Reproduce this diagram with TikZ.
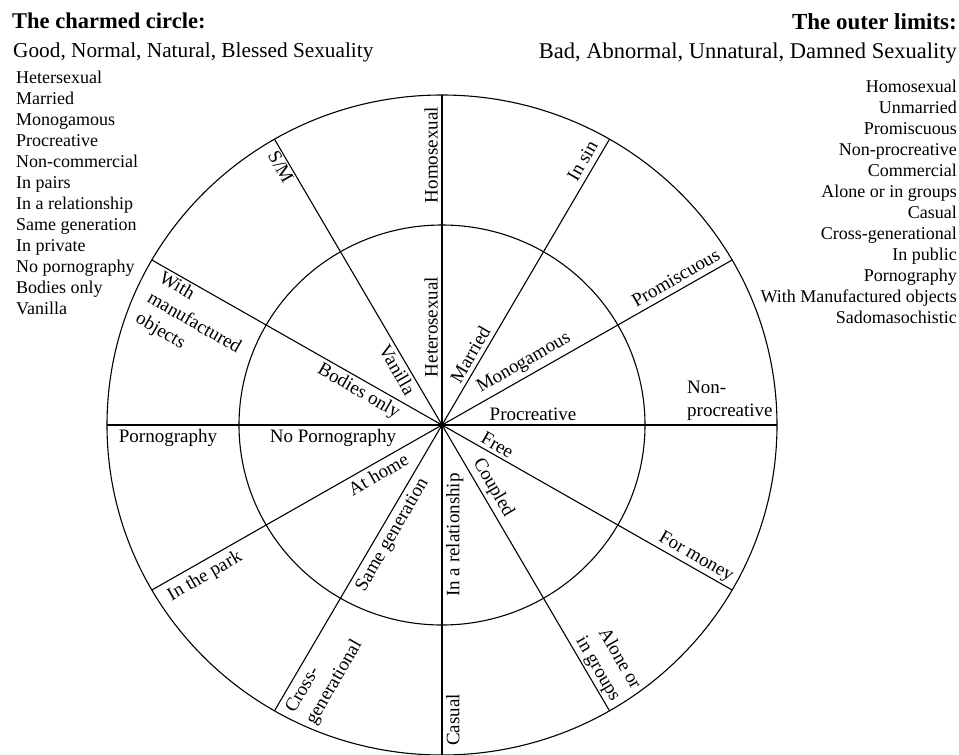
\documentclass[tikz,border=0pt]{standalone}
\usepackage{fontspec}
\setmainfont{Liberation Serif}

\begin{document}
\begin{tikzpicture}[x=1pt, y=-1pt,
    every node/.style={inner sep=0pt, text=black},
    ring/.style={line width=1.1pt},
    spoke/.style={line width=1.1pt},
    lbl/.style={font=\fontsize{19}{23.5}\selectfont, inner sep=4pt},
    listitem/.style={font=\fontsize{18}{21}\selectfont},
    ]
  \useasboundingbox (0,0) rectangle (959,755);

  % headings
  \node[anchor=base west, font=\bfseries\fontsize{22.5}{26}\selectfont] (charmed) at (12,28) {The charmed circle:};
  \node[anchor=base west, font=\fontsize{21.3}{25}\selectfont] (good) at (13,57) {Good, Normal, Natural, Blessed Sexuality};
  \node[anchor=base east, font=\bfseries\fontsize{23}{26}\selectfont] (outer) at (957,29) {The outer limits:};
  \node[anchor=base east, font=\fontsize{22.5}{26}\selectfont] (bad) at (957,58) {Bad, Abnormal, Unnatural, Damned Sexuality};

  % the two lists
  \foreach \t [count=\i] in {Hetersexual, Married, Monogamous, Procreative, Non-commercial, In pairs,
      In a relationship, Same generation, In private, No pornography, Bodies only, Vanilla}
    \node[listitem, anchor=base west] (goodlist\i) at (16,62+21*\i) {\t};
  \foreach \t [count=\i] in {Homosexual, Unmarried, Promiscuous, Non-procreative, Commercial, Alone or in groups,
      Casual, Cross-generational, In public, Pornography, With Manufactured objects, Sadomasochistic}
    \node[listitem, anchor=base east] (badlist\i) at (957,71+21*\i) {\t};

  % the wheel
  \node[circle, fill, minimum size=6pt] (ctr) at (442,425) {};
  \draw[ring] (ctr.center) ellipse [x radius=335pt, y radius=330pt];
  \draw[ring] (ctr.center) ellipse [x radius=203pt, y radius=200pt];
  \foreach \a in {0,30,...,330} {
    \path (ctr.center) ++(\a:335pt and 330pt) coordinate (rim\a);
    \draw[spoke] (ctr.center) -- (rim\a);
  }

  % inner ring
  \path (ctr.center) ++(90:98pt)   node[lbl, rotate=90, anchor=south]  (hetero) {Heterosexual};
  \path (ctr.center) ++(60:75pt)   node[lbl, rotate=60, anchor=south]  (married) {Married};
  \path (ctr.center) ++(30:102pt)  node[lbl, rotate=30, anchor=south]  (monog) {Monogamous};
  \path (ctr.center) ++(0:91pt)    node[lbl, anchor=south]             (procr) {Procreative};
  \path (ctr.center) ++(-30:58pt)  node[lbl, rotate=-30, anchor=south] (free) {Free};
  \path (ctr.center) ++(-60:80pt)  node[lbl, rotate=-60, anchor=south] (coupled) {Coupled};
  \path (ctr.center) ++(270:110pt) node[lbl, rotate=90, anchor=north]  (relat) {In a relationship};
  \path (ctr.center) ++(240:120pt) node[lbl, rotate=60, anchor=north]  (samegen) {Same generation};
  \path (ctr.center) ++(210:80pt)  node[lbl, rotate=30, anchor=north]  (athome) {At home};
  \path (ctr.center) ++(180:109pt) node[lbl, anchor=north]             (noporn) {No Pornography};
  \path (ctr.center) ++(150:89pt)  node[lbl, rotate=-30, anchor=north] (bodies) {Bodies only};
  \path (ctr.center) ++(120:70pt)  node[lbl, rotate=-60, anchor=north] (vanilla) {Vanilla};

  % outer ring
  \path (ctr.center) ++(90:270pt)  node[lbl, rotate=90, anchor=south]  (homo) {Homosexual};
  \path (ctr.center) ++(60:299pt)  node[lbl, rotate=60, anchor=south]  (insin) {In sin};
  \path (ctr.center) ++(30:276pt)  node[lbl, rotate=30, anchor=south]  (promisc) {Promiscuous};
  \path (ctr.center) ++(0:241pt)   node[lbl, anchor=south west, align=left] (nonprocr) {Non-\\procreative};
  \path (ctr.center) ++(-30:286pt) node[lbl, rotate=-30, anchor=south] (money) {For money};
  \path (ctr.center) ++(-60:329pt) node[lbl, rotate=-60, anchor=south east, align=right] (groups) {Alone or\\in groups};
  \path (ctr.center) ++(270:295pt) node[lbl, rotate=90, anchor=north]  (casual) {Casual};
  \path (ctr.center) ++(240:328pt) node[lbl, rotate=60, anchor=north west, align=left] (crossgen) {Cross-\\generational};
  \path (ctr.center) ++(210:281pt) node[lbl, rotate=30, anchor=north]  (park) {In the park};
  \path (ctr.center) ++(180:274pt) node[lbl, anchor=north]             (porn) {Pornography};
  \path (ctr.center) ++(150:322pt) node[lbl, rotate=-30, anchor=north west, align=left] (objects) {With\\manufactured\\objects};
  \path (ctr.center) ++(120:304pt) node[lbl, rotate=-60, anchor=north] (sm) {S/M};
\end{tikzpicture}
\end{document}
